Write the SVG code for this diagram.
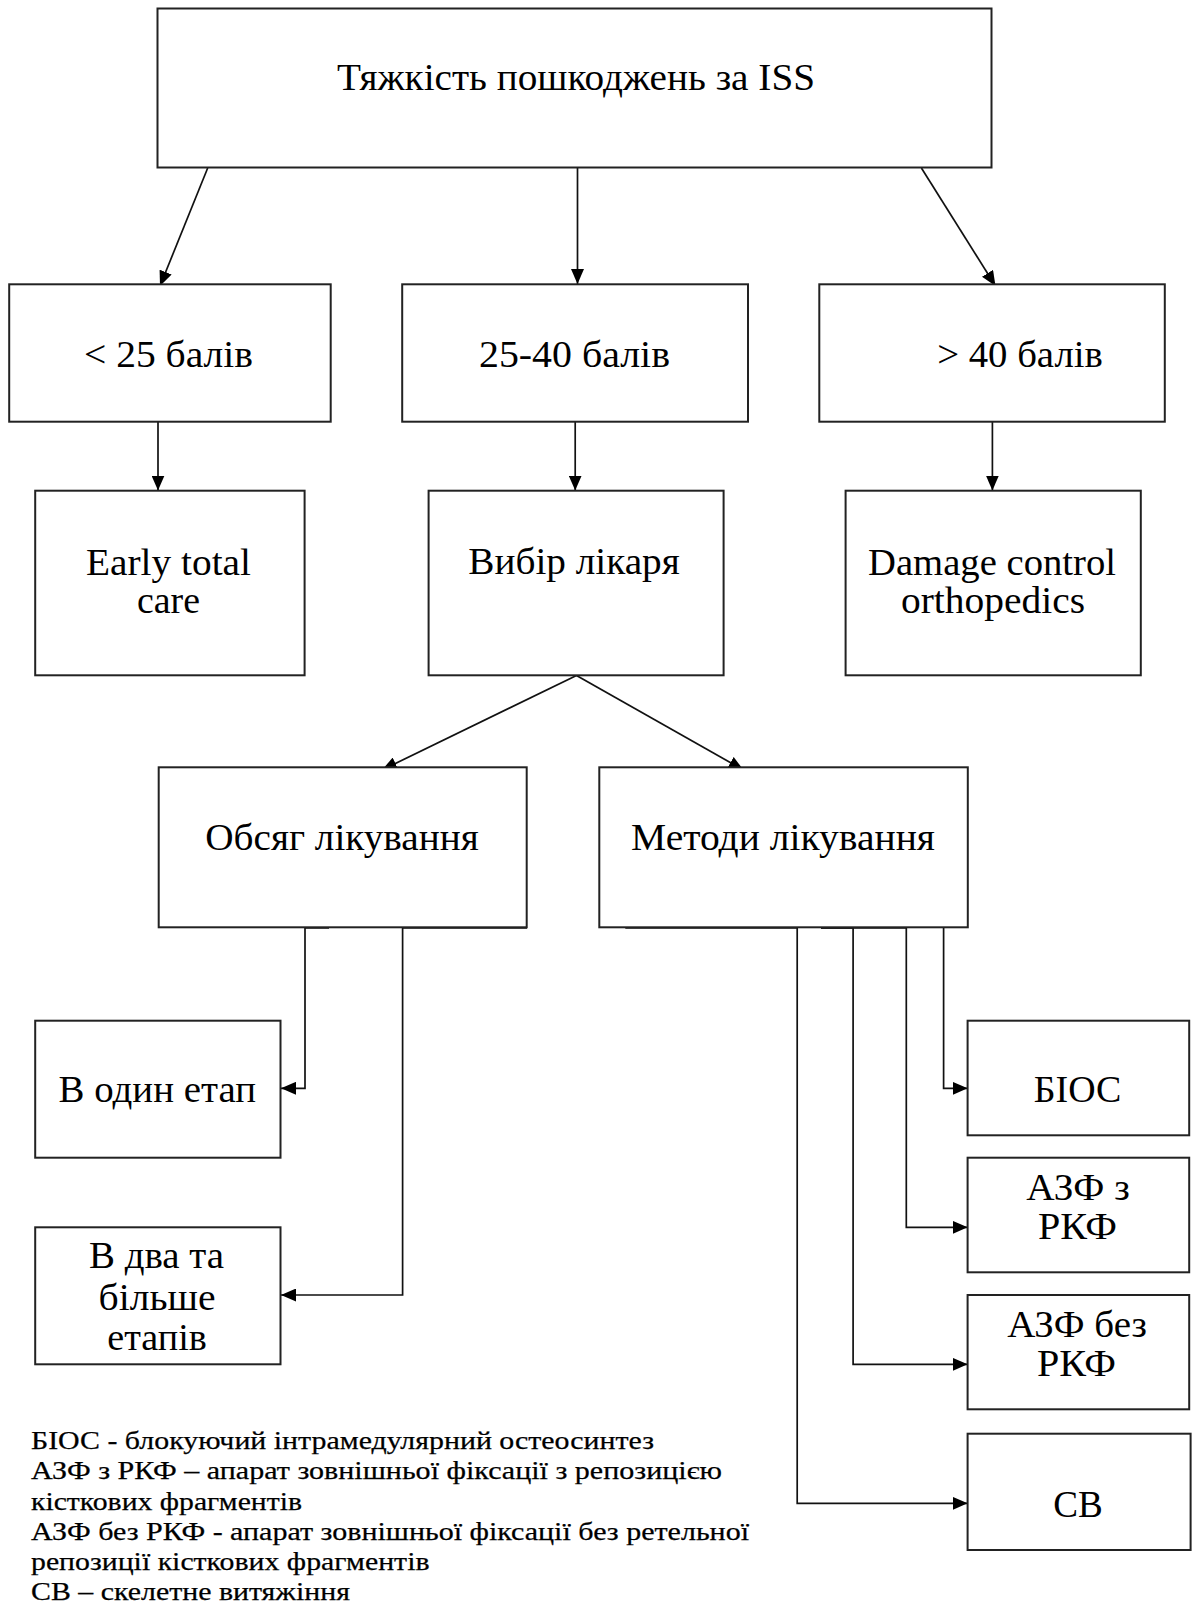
<svg xmlns="http://www.w3.org/2000/svg" width="1197" height="1611" viewBox="0 0 1197 1611">
<style>
.box{fill:#fff;stroke:#222;stroke-width:2}
.lbl{font-family:"Liberation Serif","Times New Roman",serif;font-size:37px;fill:#000;text-anchor:middle}
.leg{font-family:"Liberation Serif","Times New Roman",serif;font-size:26px;fill:#000;stroke:#000;stroke-width:0.25}
.con{fill:none;stroke:#111;stroke-width:1.7}
</style>
<defs>
<marker id="ah" markerUnits="userSpaceOnUse" markerWidth="15" markerHeight="13" refX="15" refY="6.5" orient="auto">
<path d="M0,0 L15,6.5 L0,13 z" fill="#000"/>
</marker>
</defs>
<rect width="1197" height="1611" fill="#fff"/>
<g id="connectors">
<line class="con" x1="207.7" y1="168" x2="160" y2="286" marker-end="url(#ah)"/>
<line class="con" x1="577.5" y1="168" x2="577.5" y2="284" marker-end="url(#ah)"/>
<line class="con" x1="921.4" y1="168" x2="995.5" y2="286" marker-end="url(#ah)"/>
<line class="con" x1="158" y1="422" x2="158" y2="490.5" marker-end="url(#ah)"/>
<line class="con" x1="575.2" y1="422" x2="575.2" y2="490.5" marker-end="url(#ah)"/>
<line class="con" x1="992.4" y1="422" x2="992.4" y2="490.5" marker-end="url(#ah)"/>
<line class="con" x1="576.5" y1="675.5" x2="382" y2="770" marker-end="url(#ah)"/>
<line class="con" x1="576.5" y1="675.5" x2="743.5" y2="770" marker-end="url(#ah)"/>
<polyline class="con" points="329,928 305,928 305,1088.3 281,1088.3" marker-end="url(#ah)"/>
<polyline class="con" points="527,928 402.6,928 402.6,1295 281,1295" marker-end="url(#ah)"/>
<polyline class="con" points="943.6,927 943.6,1088.3 967.6,1088.3" marker-end="url(#ah)"/>
<polyline class="con" points="821,928 906.3,928 906.3,1227.3 967.6,1227.3" marker-end="url(#ah)"/>
<polyline class="con" points="821,928 853.1,928 853.1,1364.3 967.6,1364.3" marker-end="url(#ah)"/>
<polyline class="con" points="625.3,928 797.2,928 797.2,1503.3 967.6,1503.3" marker-end="url(#ah)"/>
</g>
<g id="n-iss">
<rect class="box" x="157.5" y="8.5" width="834" height="159"/>
<text class="lbl" x="576" y="90" font-size="38" textLength="478" lengthAdjust="spacingAndGlyphs">Тяжкість пошкоджень за ISS</text>
</g>
<g id="n-lt25">
<rect class="box" x="9.2" y="284.3" width="321.5" height="137.4"/>
<text class="lbl" x="168.5" y="367" textLength="169" lengthAdjust="spacingAndGlyphs">&lt; 25 балів</text>
</g>
<g id="n-25-40">
<rect class="box" x="402.2" y="284.3" width="345.8" height="137.4"/>
<text class="lbl" x="574.5" y="367" textLength="191" lengthAdjust="spacingAndGlyphs">25-40 балів</text>
</g>
<g id="n-gt40">
<rect class="box" x="819.3" y="284.3" width="345.5" height="137.4"/>
<text class="lbl" x="1020" y="367" textLength="165.5" lengthAdjust="spacingAndGlyphs">&gt; 40 балів</text>
</g>
<g id="n-etc">
<rect class="box" x="35.2" y="490.7" width="269.4" height="184.6"/>
<text class="lbl" x="168.5" y="575" textLength="165" lengthAdjust="spacingAndGlyphs">Early total</text>
<text class="lbl" x="168.5" y="613" textLength="63" lengthAdjust="spacingAndGlyphs">care</text>
</g>
<g id="n-vybir">
<rect class="box" x="428.6" y="490.7" width="295" height="184.6"/>
<text class="lbl" x="574" y="574" textLength="211.5" lengthAdjust="spacingAndGlyphs">Вибір лікаря</text>
</g>
<g id="n-dco">
<rect class="box" x="845.6" y="490.7" width="295.2" height="184.6"/>
<text class="lbl" x="992" y="575" textLength="248" lengthAdjust="spacingAndGlyphs">Damage control</text>
<text class="lbl" x="993" y="613" textLength="184" lengthAdjust="spacingAndGlyphs">orthopedics</text>
</g>
<g id="n-obsyag">
<rect class="box" x="158.7" y="767.3" width="368" height="160"/>
<text class="lbl" x="342" y="850" textLength="273.5" lengthAdjust="spacingAndGlyphs">Обсяг лікування</text>
</g>
<g id="n-metody">
<rect class="box" x="599.3" y="767.3" width="368.5" height="160"/>
<text class="lbl" x="783" y="850" textLength="304" lengthAdjust="spacingAndGlyphs">Методи лікування</text>
</g>
<g id="n-odyn">
<rect class="box" x="35.2" y="1020.7" width="245.3" height="137"/>
<text class="lbl" x="157.3" y="1101.5" textLength="197.4" lengthAdjust="spacingAndGlyphs">В один етап</text>
</g>
<g id="n-dva">
<rect class="box" x="35.2" y="1227.3" width="245.3" height="137"/>
<text class="lbl" x="156.5" y="1268" textLength="135" lengthAdjust="spacingAndGlyphs">В два та</text>
<text class="lbl" x="157" y="1309.5" textLength="117" lengthAdjust="spacingAndGlyphs">більше</text>
<text class="lbl" x="157" y="1350" textLength="99.5" lengthAdjust="spacingAndGlyphs">етапів</text>
</g>
<g id="n-bios">
<rect class="box" x="967.6" y="1020.7" width="221.6" height="114.6"/>
<text class="lbl" x="1077.5" y="1101.5" textLength="87.5" lengthAdjust="spacingAndGlyphs">БІОС</text>
</g>
<g id="n-azf-z">
<rect class="box" x="967.6" y="1157.7" width="221.6" height="114.6"/>
<text class="lbl" x="1078" y="1200" textLength="103.5" lengthAdjust="spacingAndGlyphs">АЗФ з</text>
<text class="lbl" x="1077.5" y="1239.3" textLength="79" lengthAdjust="spacingAndGlyphs">РКФ</text>
</g>
<g id="n-azf-bez">
<rect class="box" x="967.6" y="1295" width="221.6" height="114.3"/>
<text class="lbl" x="1077" y="1336.7" textLength="139.7" lengthAdjust="spacingAndGlyphs">АЗФ без</text>
<text class="lbl" x="1076.5" y="1376" textLength="79" lengthAdjust="spacingAndGlyphs">РКФ</text>
</g>
<g id="n-sv">
<rect class="box" x="967.6" y="1433.7" width="223" height="116.3"/>
<text class="lbl" x="1078" y="1516.7" textLength="49.5" lengthAdjust="spacingAndGlyphs">СВ</text>
</g>
<g id="legend">
<text class="leg" x="31" y="1449" textLength="623" lengthAdjust="spacingAndGlyphs">БІОС - блокуючий інтрамедулярний  остеосинтез</text>
<text class="leg" x="31" y="1479" textLength="691" lengthAdjust="spacingAndGlyphs">АЗФ з РКФ – апарат зовнішньої  фіксації з репозицією</text>
<text class="leg" x="31" y="1509.5" textLength="271" lengthAdjust="spacingAndGlyphs">кісткових фрагментів</text>
<text class="leg" x="31" y="1540" textLength="718" lengthAdjust="spacingAndGlyphs">АЗФ без РКФ - апарат зовнішньої  фіксації  без ретельної</text>
<text class="leg" x="31" y="1570" textLength="398.5" lengthAdjust="spacingAndGlyphs">репозиції кісткових фрагментів</text>
<text class="leg" x="31" y="1600" textLength="319" lengthAdjust="spacingAndGlyphs">СВ – скелетне витяжіння</text>
</g>
</svg>
